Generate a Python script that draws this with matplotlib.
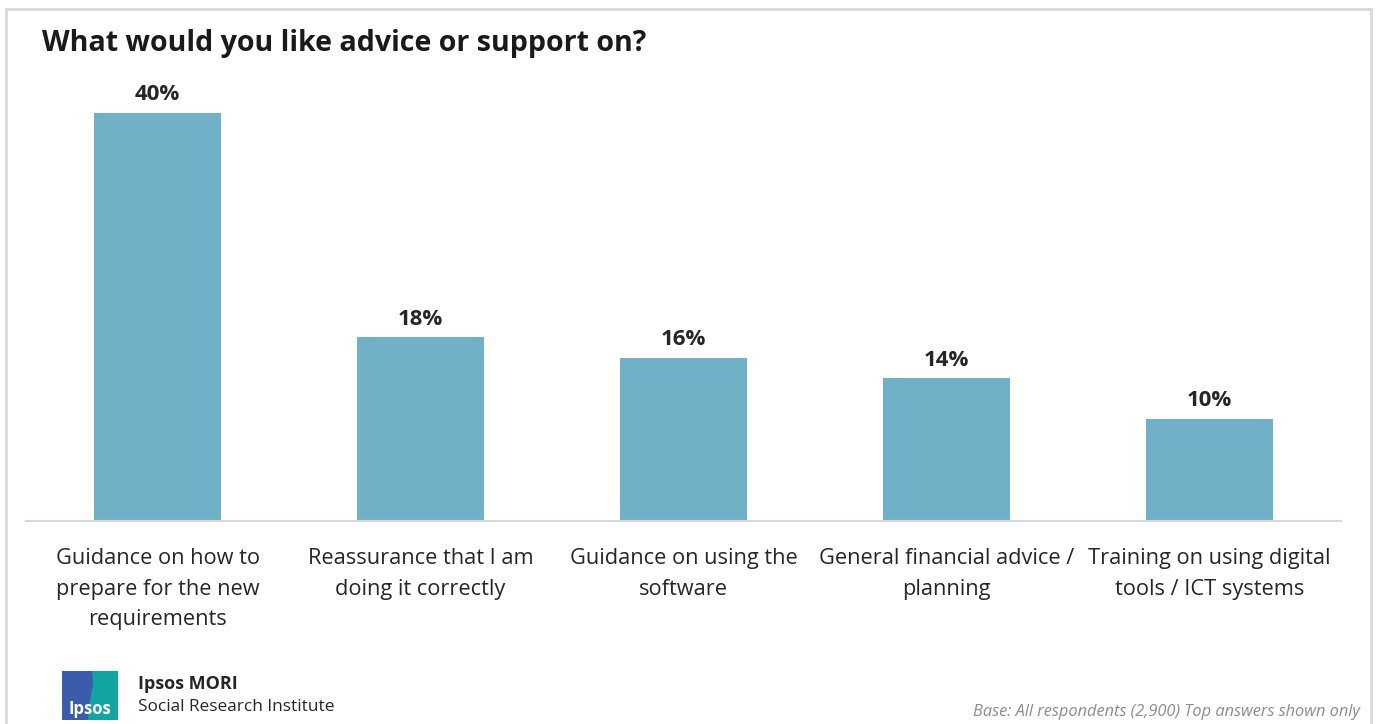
import matplotlib.pyplot as plt
from matplotlib.patches import Rectangle, Polygon
from matplotlib.lines import Line2D

categories = [
    "Guidance on how to\nprepare for the new\nrequirements",
    "Reassurance that I am\ndoing it correctly",
    "Guidance on using the\nsoftware",
    "General financial advice /\nplanning",
    "Training on using digital\ntools / ICT systems",
]
values = [40, 18, 16, 14, 10]

W, H = 1377, 724
fig = plt.figure(figsize=(W / 100, H / 100), dpi=100)
plt.rcParams['font.family'] = ['Open Sans', 'DejaVu Sans']


def fx(px):
    return px / W


def fy(py):
    return 1 - py / H


# chart panel
ax = fig.add_axes([fx(26), fy(521), fx(1341 - 26), (521 - 101) / H])
ax.bar(range(len(values)), values, width=0.483, color='#71b1c8')
ax.set_xlim(-0.5, len(values) - 0.5)
ax.set_ylim(0, 420 / 10.2)
for i, v in enumerate(values):
    ax.text(i, v + 0.75, f"{v}%", ha='center', va='bottom',
            fontsize=16, fontweight='bold', color='#262626')
for s in ['top', 'right', 'left']:
    ax.spines[s].set_visible(False)
ax.spines['bottom'].set_color('#d9d9d9')
ax.spines['bottom'].set_linewidth(1.5)
ax.set_yticks([])
ax.set_xticks(range(len(categories)))
ax.set_xticklabels(categories, fontsize=15.7, color='#262626', linespacing=1.6)
ax.tick_params(axis='x', length=0, pad=19.5)

# outer frame
frame_color = '#d9d9d9'
fig.add_artist(Line2D([fx(6), fx(6)], [fy(9), 0], color=frame_color, lw=2))
fig.add_artist(Line2D([fx(6), fx(1371)], [fy(9), fy(9)], color=frame_color, lw=2))
fig.add_artist(Line2D([fx(1371), fx(1371)], [fy(9), 0], color=frame_color, lw=2))

fig.text(fx(42), fy(43), "What would you like advice or support on?",
         fontsize=20.6, fontweight='bold', color='#1a1a1a', va='center', ha='left')

# logo
fig.add_artist(Rectangle((fx(62), fy(720)), fx(56), (720 - 671) / H,
                         color='#3b5caa', lw=0))
fig.add_artist(Polygon([(fx(92), fy(671)), (fx(118), fy(671)), (fx(118), fy(720)),
                        (fx(88), fy(720)), (fx(90), fy(700)), (fx(93), fy(685))],
                       closed=True, color='#12a4a0', lw=0))
fig.text(fx(90), fy(709), "Ipsos", fontsize=12, fontweight='bold',
         color='white', ha='center', va='center')
fig.text(fx(138), fy(684), "Ipsos MORI", fontsize=13, fontweight='bold',
         color='#262626', va='center')
fig.text(fx(138), fy(707), "Social Research Institute", fontsize=12.4,
         color='#262626', va='center')

fig.text(fx(1360), fy(712), "Base: All respondents (2,900) Top answers shown only",
         fontsize=11.8, style='italic', color='#8c8c8c', ha='right', va='center')

fig.savefig('out.png', dpi=100)
